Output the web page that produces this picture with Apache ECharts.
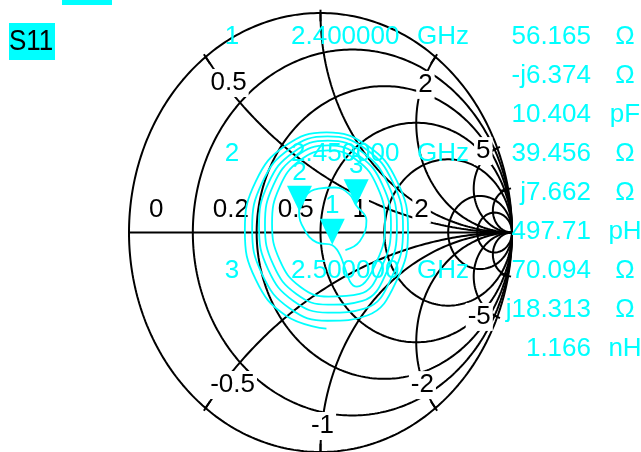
<!DOCTYPE html>
<html><head><meta charset="utf-8">
<script src="https://cdn.jsdelivr.net/npm/echarts@6.0.0/dist/echarts.min.js"></script>
<style>html,body{margin:0;padding:0;background:#fff;overflow:hidden}#c{width:641px;height:452px}</style>
</head><body><div id="c"></div>
<script>
// ---------------- data ----------------
const Z0 = 50;
const rValues = [0, 0.2, 0.5, 1, 2, 5, 10];
const xValues = [0.5, 1, 2, 5, 10, -0.5, -1, -2, -5, -10];
const rLabelText = ['0', '0.2', '0.5', '1', '2'];
const xLabelText = ['0.5', '2', '5', '-0.5', '-1', '-2', '-5'];
const markerIds = ['1', '2', '3'];
const markerFreq = ['2.400000', '2.450000', '2.500000'];
const markerR = [56.165, 39.456, 70.094];
const markerX = [-6.374, 7.662, 18.313];
const markerLC = ['10.404', '497.71', '1.166'];
const markerLCUnit = ['pF', 'pH', 'nH'];
const traceRe = [
  0.031,-0.182,-0.338,-0.395,-0.338,-0.182,0.031,0.244,0.400,0.457,0.400,0.244,
  0.037,-0.160,-0.304,-0.357,-0.304,-0.160,0.037,0.234,0.378,0.431,0.378,0.234,
  0.039,-0.141,-0.273,-0.321,-0.273,-0.141,0.039,0.219,0.351,0.399,0.351,0.219,
  0.039,-0.126,-0.246,-0.290,-0.246,-0.126,0.039,0.204,0.324,0.368,0.324,0.204,
  0.042,-0.106,-0.213,-0.253,-0.213,-0.106,0.042,0.190,0.297,0.337,0.297,0.190,
  0.062,-0.020,-0.085,-0.112,-0.080,-0.010,0.075,0.150,0.186,0.240,0.205,0.130
];
const traceIm = [
  -0.438,-0.378,-0.215,0.009,0.233,0.396,0.456,0.396,0.233,0.009,-0.215,-0.378,
  -0.402,-0.346,-0.192,0.018,0.228,0.382,0.438,0.382,0.228,0.018,-0.192,-0.346,
  -0.365,-0.312,-0.169,0.027,0.223,0.366,0.419,0.366,0.223,0.027,-0.169,-0.312,
  -0.329,-0.280,-0.148,0.034,0.216,0.348,0.397,0.348,0.216,0.034,-0.148,-0.280,
  -0.292,-0.247,-0.126,0.041,0.208,0.329,0.374,0.329,0.208,0.041,-0.126,-0.247,
  -0.058,-0.045,0.015,0.095,0.165,0.200,0.205,0.175,0.124,0.055,-0.040,-0.080
];

// ---------------- layout / style ----------------
const FONT = '"Liberation Sans", Arial, sans-serif';
const CYAN = '#00ffff';
const L = {
  grid: { left: 129, top: 13, width: 383, height: 441 },
  rLabelDx: [18, 18, 19, 30, 28], rLabelDy: -23,
  xLabelOff: [[23, 26], [-10, 28], [-14, 3], [27, -23], [2, -26], [-13, -23], [-18, 0]],
  rowY0: 37, rowDy: 39,
  idX: 232, freqX: 291, ghzX: 417, numRight: 591, unitX: 625
};

function gamma(r, x) {
  const d = (r + 1) * (r + 1) + x * x;
  return [(r * r + x * x - 1) / d, 2 * x / d];
}
const series = [];
const lineStyle = { color: '#000', width: 2 };
// r circles
rValues.forEach(r => {
  const c = r / (1 + r), R = 1 / (1 + r), pts = [];
  for (let i = 0; i <= 720; i++) { const a = i / 720 * 2 * Math.PI; pts.push([c + R * Math.cos(a), R * Math.sin(a)]); }
  series.push({ type: 'line', data: pts, showSymbol: false, silent: true, clip: false, z: 1, lineStyle, animation: false });
});
// real axis
series.push({ type: 'line', data: [[-1, 0], [1, 0]], showSymbol: false, silent: true, z: 1, lineStyle, animation: false });
// x arcs + rim ticks
xValues.forEach(x => {
  const pts = [];
  for (let i = 0; i < 600; i++) { const r = Math.tan(i / 600 * Math.PI / 2); pts.push(gamma(r, x)); }
  pts.push([1, 0]);
  series.push({ type: 'line', data: pts, showSymbol: false, silent: true, z: 1, lineStyle, animation: false });
  const g = gamma(0, x);
  series.push({ type: 'line', data: [[g[0] * 1.015, g[1] * 1.015], [g[0] * 0.962, g[1] * 0.962]], showSymbol: false, silent: true, clip: false, z: 1, lineStyle, animation: false });
});
// grid labels
const labelBase = { show: true, position: 'inside', fontSize: 26, fontFamily: FONT, color: '#000', opacity: 1, textBorderWidth: 0, backgroundColor: '#fff', padding: [1, 2] };
const labelData = [];
rLabelText.forEach((t, i) => {
  const r = parseFloat(t);
  labelData.push({ value: [(r - 1) / (r + 1), 0], label: Object.assign({}, labelBase, { formatter: t, align: 'left', offset: [L.rLabelDx[i], L.rLabelDy] }) });
});
xLabelText.forEach((t, i) => {
  const x = parseFloat(t);
  labelData.push({ value: gamma(0, x), label: Object.assign({}, labelBase, { formatter: t, offset: L.xLabelOff[i] }) });
});
series.push({ type: 'scatter', data: labelData, symbolSize: 0, itemStyle: { opacity: 1 }, silent: true, clip: false, z: 2, animation: false });
// trace
series.push({ type: 'line', data: traceRe.map((v, i) => [v, traceIm[i]]), smooth: 0.45, showSymbol: false, silent: true, z: 3, lineStyle: { color: CYAN, width: 1.8 }, animation: false });
// markers
const mData = markerR.map((R, i) => ({ value: gamma(R / Z0, markerX[i] / Z0), name: markerIds[i] }));
series.push({ type: 'scatter', data: mData, symbol: 'path://M0,0 L24,0 L12,26 Z', symbolSize: [25, 26], symbolOffset: [0, -13], itemStyle: { color: CYAN, opacity: 1 }, z: 4, animation: false,
  label: { show: true, position: 'inside', formatter: p => p.name, offset: [0, -26], color: CYAN, opacity: 1, textBorderWidth: 0, fontSize: 26, fontFamily: FONT } });

// readout texts
const graphics = [
  { type: 'rect', shape: { x: 62, y: 0, width: 50, height: 5 }, style: { fill: CYAN } },
  { type: 'rect', shape: { x: 9, y: 23, width: 46, height: 37 }, style: { fill: CYAN } },
  { type: 'text', x: 9, y: 42, scaleY: 1.15, originY: 0, style: { text: 'S11', font: '26px ' + FONT, fill: '#000', verticalAlign: 'middle' } }
];
function txt(s, x, y, align) { graphics.push({ type: 'text', x, y, z: 10, style: { text: s, font: '26px ' + FONT, fill: CYAN, align: align, verticalAlign: 'middle' } }); }
markerIds.forEach((id, i) => {
  const y0 = L.rowY0 + i * 3 * L.rowDy;
  txt(id, L.idX, y0, 'center');
  txt(markerFreq[i], L.freqX, y0, 'left');
  txt('GHz', L.ghzX, y0, 'left');
  txt(markerR[i].toFixed(3), L.numRight, y0, 'right');
  txt('Ω', L.unitX, y0, 'center');
  const xs = (markerX[i] < 0 ? '-j' : 'j') + Math.abs(markerX[i]).toFixed(3);
  txt(xs, L.numRight, y0 + L.rowDy, 'right');
  txt('Ω', L.unitX, y0 + L.rowDy, 'center');
  txt(markerLC[i], L.numRight, y0 + 2 * L.rowDy, 'right');
  txt(markerLCUnit[i], L.unitX, y0 + 2 * L.rowDy, 'center');
});

const chart = echarts.init(document.getElementById('c'), null, { renderer: 'canvas' });
chart.setOption({
  animation: false,
  backgroundColor: '#fff',
  grid: Object.assign({ containLabel: false }, L.grid),
  xAxis: { type: 'value', min: -1, max: 1, show: false },
  yAxis: { type: 'value', min: -1, max: 1, show: false },
  series: series,
  graphic: graphics
});
</script></body></html>
